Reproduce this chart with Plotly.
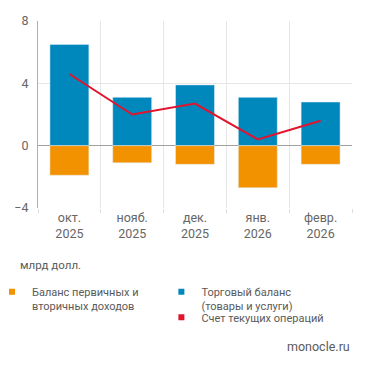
import plotly.graph_objects as go

months = ["окт.<br>2025", "нояб.<br>2025", "дек.<br>2025", "янв.<br>2026", "февр.<br>2026"]
trade_balance = [6.5, 3.1, 3.9, 3.1, 2.8]
income_balance = [-1.9, -1.1, -1.2, -2.7, -1.2]
current_account = [4.6, 2.0, 2.7, 0.4, 1.6]

name_income = "Баланс первичных и<br>вторичных доходов"
name_trade = "Торговый баланс<br>(товары и услуги)"
name_ca = "Счет текущих операций"

BLUE = "#0088BD"
ORANGE = "#F39200"
RED = "#E2142D"
FONT = "Roboto"
TXT = "#5a5a5a"

fig = go.Figure()
fig.add_bar(x=months, y=trade_balance, marker_color=BLUE, showlegend=False, name=name_trade)
fig.add_bar(x=months, y=income_balance, marker_color=ORANGE, showlegend=False, name=name_income)
fig.add_scatter(x=months, y=current_account, mode="lines", line=dict(color=RED, width=2),
                showlegend=False, name=name_ca)

# legend entries (square swatches)
fig.add_scatter(x=[None], y=[None], mode="markers", name=name_income,
                marker=dict(symbol="square", size=6, color=ORANGE), legend="legend")
fig.add_scatter(x=[None], y=[None], mode="markers", name=name_trade,
                marker=dict(symbol="square", size=6, color=BLUE), legend="legend2")
fig.add_scatter(x=[None], y=[None], mode="markers", name=name_ca,
                marker=dict(symbol="square", size=6, color=RED), legend="legend3")

leg_common = dict(yref="container", xanchor="left", yanchor="top", valign="top",
                  font=dict(family=FONT, size=11, color=TXT), bgcolor="rgba(0,0,0,0)",
                  tracegroupgap=0)

fig.update_layout(
    width=371, height=368,
    margin=dict(l=38, r=19, t=21, b=160, autoexpand=False),
    plot_bgcolor="white", paper_bgcolor="white",
    barmode="relative", bargap=0.38,
    font=dict(family=FONT, size=11, color=TXT),
    legend=dict(xref="paper", x=-0.1465, y=0.244, **leg_common),
    legend2=dict(xref="container", x=0.435, y=0.244, **leg_common),
    legend3=dict(xref="container", x=0.435, y=0.175, **leg_common),
    annotations=[
        dict(text="млрд долл.", xref="paper", yref="paper", x=-0.065, y=-0.305,
             xanchor="left", yanchor="middle", showarrow=False,
             font=dict(family=FONT, size=11.5, color=TXT)),
        dict(text="monocle.ru", xref="paper", yref="paper", x=1.0, y=-0.74,
             xanchor="right", yanchor="middle", showarrow=False,
             font=dict(family=FONT, size=12.5, color=TXT)),
    ],
)

fig.update_xaxes(
    type="category", categoryarray=months, categoryorder="array",
    tickson="boundaries", showgrid=True, gridcolor="#e6e6e6", gridwidth=1,
    ticks="outside", ticklen=4, tickcolor="#dddddd",
    tickfont=dict(family=FONT, size=12.5, color="#666666"),
    showline=False, zeroline=False,
)
fig.update_yaxes(
    range=[-4, 8], tickvals=[-4, 0, 4, 8], showgrid=True, gridcolor="#e6e6e6", gridwidth=1,
    zeroline=True, zerolinecolor="#a0a0a0", zerolinewidth=1,
    showline=True, linecolor="#b0b0b0", linewidth=1,
    tickfont=dict(family=FONT, size=12.5, color="#666666"), ticklabelstandoff=6,
)

fig.write_html("out.html", post_script="document.body.style.margin='0';",
               config=dict(displayModeBar=False))
